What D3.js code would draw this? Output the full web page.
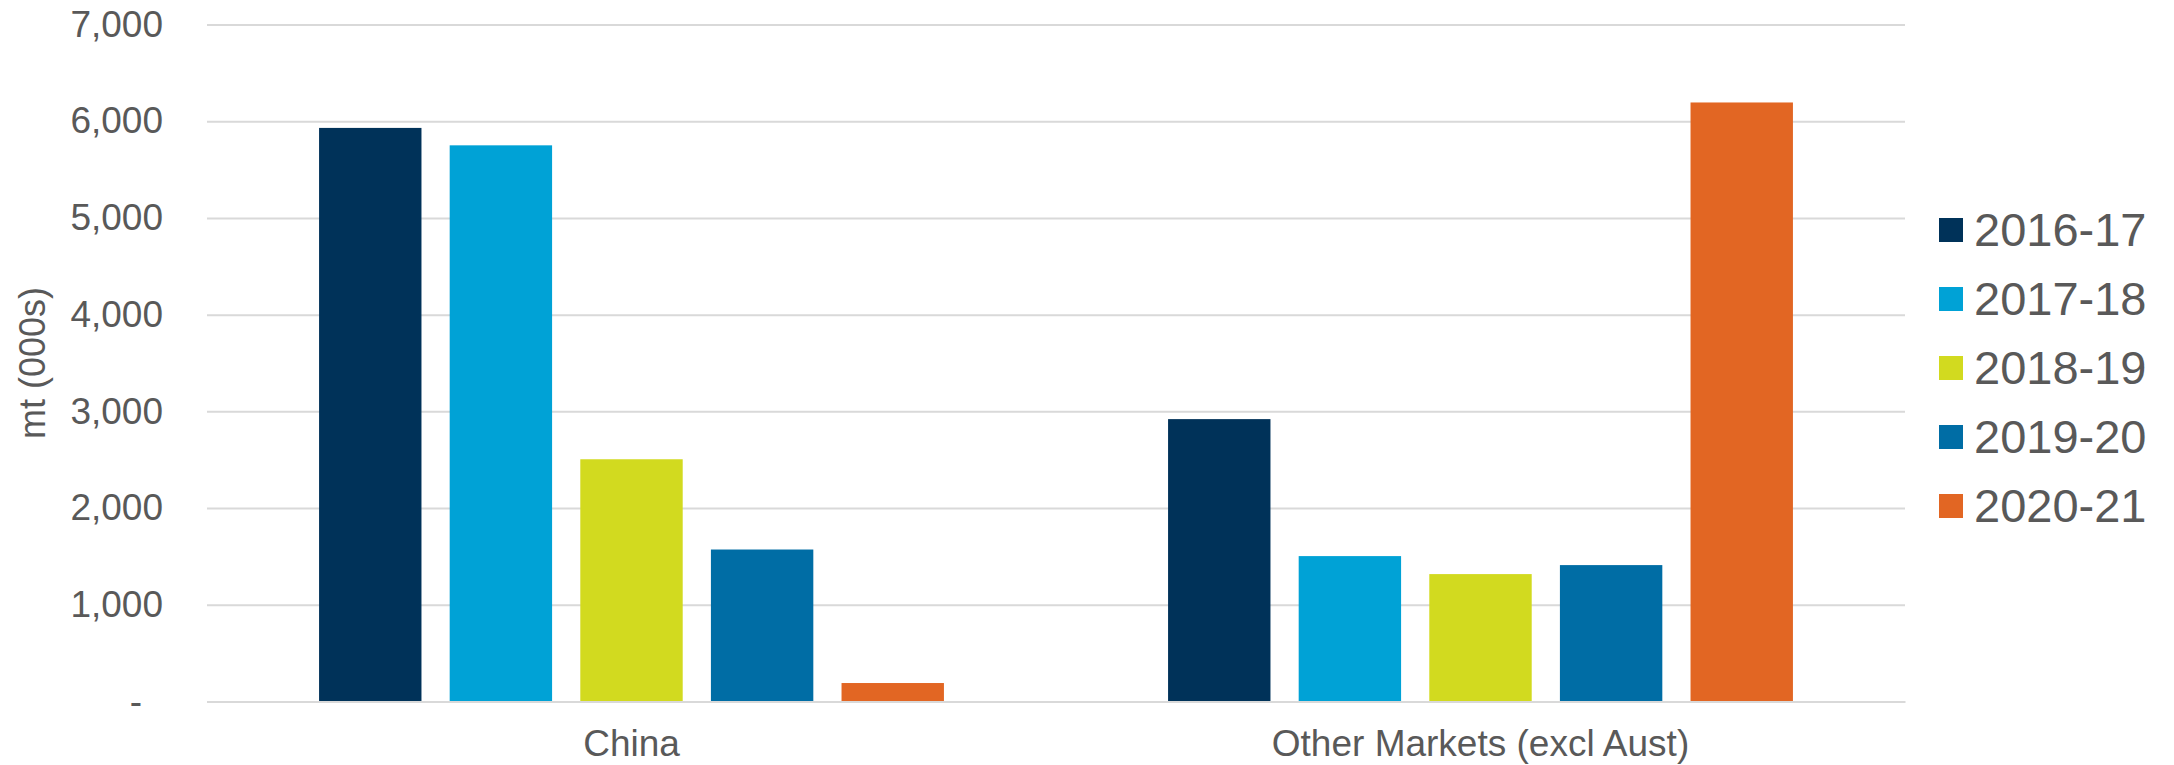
<!DOCTYPE html>
<html>
<head>
<meta charset="utf-8">
<script src="https://cdn.jsdelivr.net/npm/d3@7"></script>
<style>
  html, body { margin: 0; padding: 0; background: #ffffff; }
  svg { display: block; }
  text { font-family: "Liberation Sans", Arial, sans-serif; fill: #595959; }
</style>
</head>
<body>
<svg id="chart" width="2174" height="765"></svg>
<script>
const categories = ["China", "Other Markets (excl Aust)"];
const seriesNames = ["2016-17", "2017-18", "2018-19", "2019-20", "2020-21"];
const values2016_17 = [5930, 2920];
const values2017_18 = [5750, 1504];
const values2018_19 = [2505, 1318];
const values2019_20 = [1572, 1411];
const values2020_21 = [192, 6193];
const seriesColors = ["#003259", "#00a2d6", "#d2da1f", "#006da5", "#e26623"];
const yTicks = [0, 1000, 2000, 3000, 4000, 5000, 6000, 7000];
const yTickLabels = ["-", "1,000", "2,000", "3,000", "4,000", "5,000", "6,000", "7,000"];
const yAxisTitle = "mt (000s)";

const seriesValues = [values2016_17, values2017_18, values2018_19, values2019_20, values2020_21];

(function () {
const svg = d3.select("#chart");
const plotLeft = 207, plotRight = 1905, plotTop = 24.4, plotBottom = 701.6;

const x0 = d3.scaleBand().domain(categories).range([plotLeft, plotRight]).paddingInner(0).paddingOuter(0);
const x1 = d3.scaleBand().domain(seriesNames).range([0, x0.bandwidth()])
  .paddingInner(0.216).paddingOuter(0.858);
const y = d3.scaleLinear().domain([0, 7000]).range([plotBottom, plotTop]);

// gridlines + y labels
const yAxis = d3.axisLeft(y).tickValues(yTicks)
  .tickSize(-(plotRight - plotLeft)).tickPadding(44)
  .tickFormat((d, i) => yTickLabels[i]);
const gy = svg.append("g").attr("transform", `translate(${plotLeft},0)`).call(yAxis);
gy.select(".domain").remove();
gy.selectAll(".tick line").attr("stroke", "#d9d9d9").attr("stroke-width", 2);
gy.selectAll(".tick text")
  .attr("font-size", 37).attr("fill", "#595959")
  .attr("font-family", "Liberation Sans, Arial, sans-serif")
  .attr("dx", (d, i) => yTickLabels[i] === "-" ? -21 : 0);

// bars
const groups = svg.append("g").selectAll("g")
  .data(categories).join("g")
  .attr("transform", d => `translate(${x0(d)},0)`);
groups.selectAll("rect")
  .data((c, ci) => seriesNames.map((s, si) => ({ s, si, v: seriesValues[si][ci] })))
  .join("rect")
  .attr("x", d => x1(d.s))
  .attr("width", x1.bandwidth())
  .attr("y", d => y(d.v))
  .attr("height", d => y(0) - y(d.v))
  .attr("fill", d => seriesColors[d.si]);

// x axis
const xAxis = d3.axisBottom(x0).tickSize(0).tickPadding(28);
const gx = svg.append("g").attr("transform", `translate(0,${plotBottom})`).call(xAxis);
gx.select(".domain").attr("stroke", "#d9d9d9").attr("stroke-width", 2);
gx.selectAll(".tick text")
  .attr("font-size", 37).attr("fill", "#595959")
  .attr("font-family", "Liberation Sans, Arial, sans-serif");

// y axis title
svg.append("text")
  .attr("transform", `translate(45,${(plotTop + plotBottom) / 2}) rotate(-90)`)
  .attr("text-anchor", "middle")
  .attr("font-size", 36)
  .text(yAxisTitle);

// legend
const legendY = d3.scalePoint().domain(seriesNames).range([230, 506]);
const lg = svg.append("g").selectAll("g").data(seriesNames).join("g")
  .attr("transform", d => `translate(1939,${legendY(d)})`);
lg.append("rect").attr("x", 0).attr("y", -12).attr("width", 24).attr("height", 24)
  .attr("fill", (d, i) => seriesColors[i]);
lg.append("text").attr("x", 35).attr("y", 0).attr("dy", "0.34em")
  .attr("font-size", 47).text(d => d);
})();
</script>
</body>
</html>
